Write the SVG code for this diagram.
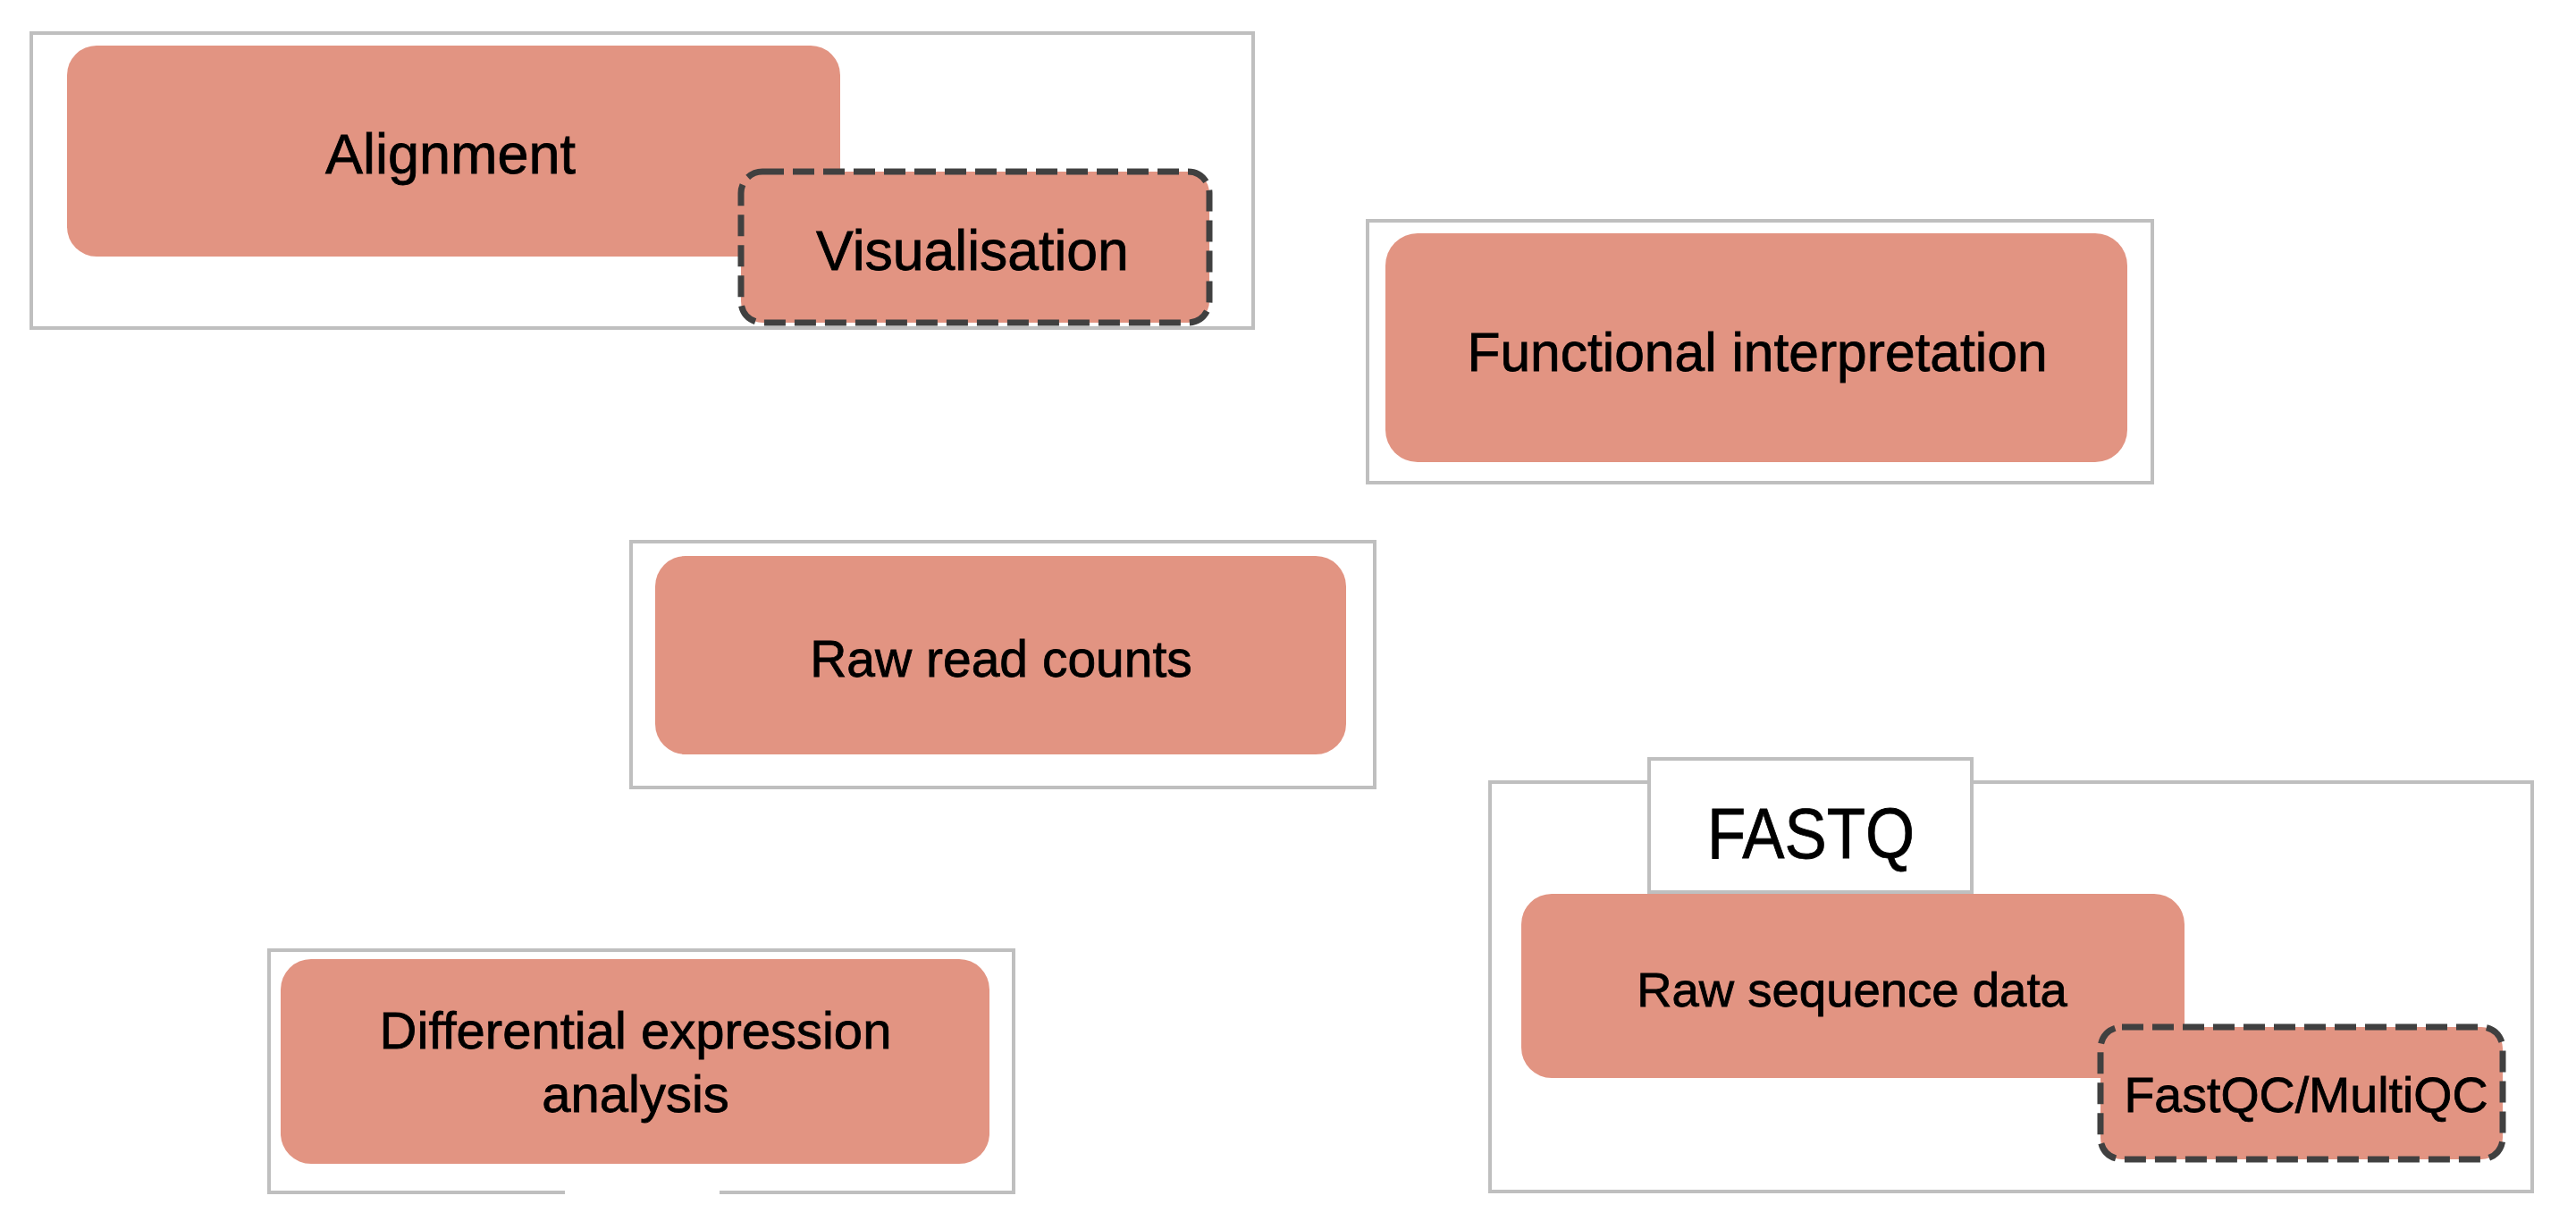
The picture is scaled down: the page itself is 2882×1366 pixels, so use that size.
<svg xmlns="http://www.w3.org/2000/svg" width="2882" height="1366" viewBox="0 0 2882 1366">
<style>
.frame{fill:#ffffff;stroke:#bfbfbf;stroke-width:4}
.box{fill:#E29482;stroke:none}
.dash{fill:#E29482;stroke:#404040;stroke-width:7;stroke-dasharray:24 10}
.t{font-family:"Liberation Sans",Arial,sans-serif;fill:#000000;stroke:#000000;stroke-width:0.8;text-anchor:middle}
</style>
<rect width="2882" height="1366" fill="#ffffff"/>
<g id="connectors"></g>
<g id="alignment">
<rect class="frame" x="35" y="37" width="1367" height="330"/>
<rect class="box" x="75" y="51" width="865" height="236" rx="33"/>
<text class="t" x="504" y="194" font-size="63">Alignment</text>
</g>
<g id="visualisation">
<rect class="dash" x="829" y="192" width="524" height="169" rx="24"/>
<text class="t" x="1088" y="302" font-size="62.5">Visualisation</text>
</g>
<g id="functional-interpretation">
<rect class="frame" x="1530" y="247" width="878" height="293"/>
<rect class="box" x="1550" y="261" width="830" height="256" rx="36"/>
<text class="t" x="1966" y="415" font-size="60.5">Functional interpretation</text>
</g>
<g id="raw-read-counts">
<rect class="frame" x="706" y="606" width="832" height="275"/>
<rect class="box" x="733" y="622" width="773" height="222" rx="34"/>
<text class="t" x="1120" y="757" font-size="57">Raw read counts</text>
</g>
<g id="differential-expression">
<rect class="frame" x="301" y="1063" width="833" height="271"/>
<line x1="632" y1="1334" x2="805" y2="1334" stroke="#ffffff" stroke-width="6"/>
<rect class="box" x="314" y="1073" width="793" height="229" rx="34"/>
<text class="t" x="711" y="1173" font-size="58">Differential expression</text>
<text class="t" x="711" y="1244" font-size="58">analysis</text>
</g>
<g id="raw-sequence-data">
<rect class="frame" x="1667" y="875" width="1166" height="458"/>
<g id="fastq-label">
<rect class="frame" x="1845" y="849" width="361" height="149"/>
<text class="t" x="2026" y="960" font-size="80" stroke-width="1.5" textLength="232" lengthAdjust="spacingAndGlyphs">FASTQ</text>
</g>
<rect class="box" x="1702" y="1000" width="742" height="206" rx="34"/>
<text class="t" x="2072" y="1126" font-size="54.5">Raw sequence data</text>
</g>
<g id="fastqc-multiqc">
<rect class="dash" x="2350" y="1149" width="450" height="148" rx="24"/>
<text class="t" x="2580" y="1244" font-size="55.5">FastQC/MultiQC</text>
</g>
</svg>
